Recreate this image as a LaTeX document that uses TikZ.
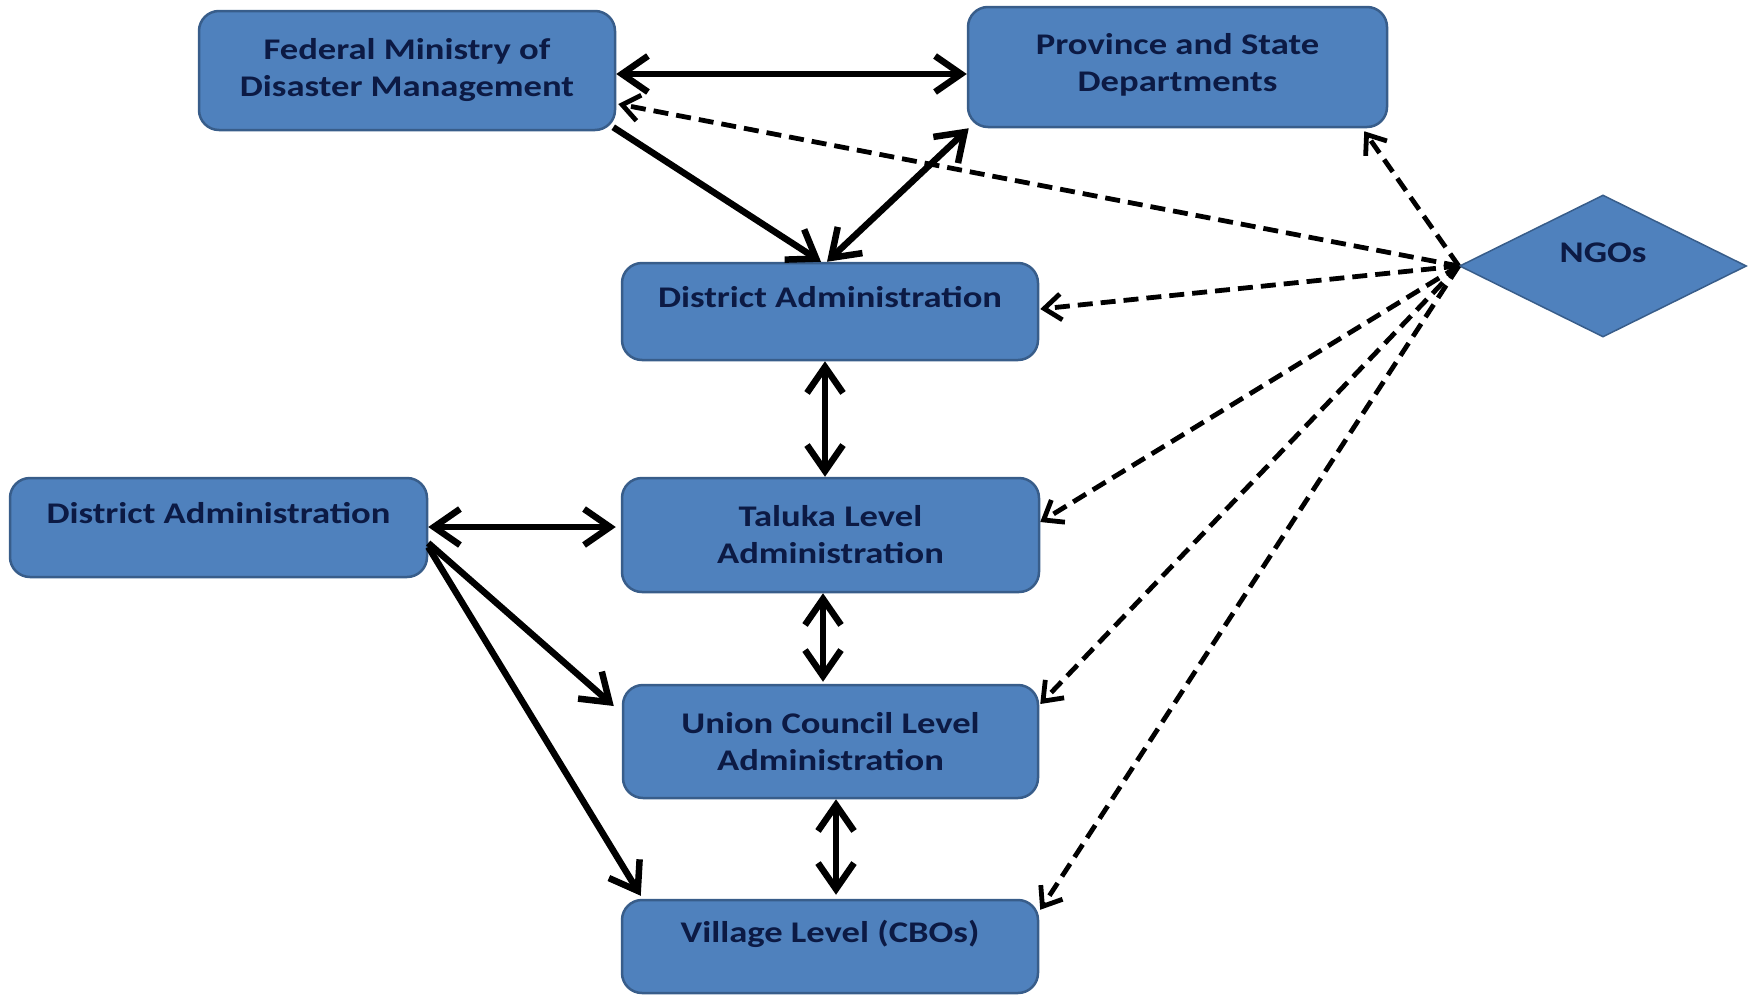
\documentclass[tikz,border=0pt]{standalone}
\usepackage{fontspec}
\newfontfamily\boxfont[FakeStretch=1.22]{Carlito}
\usetikzlibrary{shapes.geometric,arrows.meta,calc}
\definecolor{boxfill}{HTML}{4F81BD}
\definecolor{boxline}{HTML}{385D8A}
\definecolor{boxtext}{HTML}{0C1A44}
\tikzset{
  box/.style={draw=boxline, line width=2.5pt, fill=boxfill, rounded corners=20pt,
    text=boxtext, font=\boxfont\bfseries\fontsize{30}{37}\selectfont, align=center, inner sep=0pt},
  oneline/.style={text height=14pt, text depth=22pt},
  solidarrow/.style={line width=6.5pt, black},
  twoway/.style={solidarrow, {Straight Barb[length=26pt,width=36pt]}-{Straight Barb[length=26pt,width=36pt]}},
  oneway/.style={solidarrow, -{Straight Barb[length=26pt,width=36pt]}},
  dasharrow/.style={line width=4.8pt, black, dash pattern=on 15pt off 8pt, -{Straight Barb[length=17pt,width=26pt]}},
}
\begin{document}
\begin{tikzpicture}[x=1pt,y=-1pt]
\useasboundingbox (0,0) rectangle (1752,996);
\node[box, minimum width=416pt, minimum height=119pt] (fed) at (407,70.5) {Federal Ministry of\\Disaster Management};
\node[box, minimum width=419pt, minimum height=120pt, text depth=10pt] (prov) at (1177.5,67) {Province and State\\Departments};
\node[box, oneline, minimum width=416pt, minimum height=97pt] (dist) at (830,311.5) {District Administration};
\node[box, oneline, minimum width=417pt, minimum height=99pt] (left) at (218.5,527.5) {District Administration};
\node[box, minimum width=417pt, minimum height=114pt] (tal) at (830.5,535) {Taluka Level\\Administration};
\node[box, minimum width=415pt, minimum height=113pt] (uni) at (830.5,741.5) {Union Council  Level\\Administration};
\node[box, oneline, minimum width=416pt, minimum height=93pt] (vil) at (830,946.5) {Village Level (CBOs)};
\node[diamond, draw=boxline, line width=1.5pt, fill=boxfill, text=boxtext,
  font=\boxfont\bfseries\fontsize{30}{31}\selectfont, inner sep=0pt,
  minimum width=287pt, minimum height=142pt, text height=14pt, text depth=22pt] (ngo) at (1603,266) {NGOs};

% solid connectors
\draw[twoway] ($(fed.east)+(0,3.5)$) -- ($(prov.west)+(0,7)$);
\draw[oneway] ($(fed.south east)+(-3,-4)$) -- ($(dist.north)+(-9,0)$);
\draw[twoway] ($(dist.north)+(-3,0)$) -- ($(prov.south west)+(2,0)$);
\draw[twoway] ($(dist.south)+(-5,0)$) -- ($(tal.north)+(-5.5,0)$);
\draw[twoway] ($(left.east)+(0,-0.5)$) -- ($(tal.west)+(-5,-8)$);
\draw[oneway] ($(left.east)+(0,15.5)$) -- ($(uni.west)+(-8,-35.5)$);
\draw[oneway] ($(left.east)+(0,19.5)$) -- ($(vil.north west)+(20,-3)$);
\draw[twoway] ($(tal.south)+(-7.5,0)$) -- ($(uni.north)+(-7.5,-2)$);
\draw[twoway] ($(uni.south)+(5.5,0)$) -- ($(vil.north)+(6,-4)$);

% dashed connectors from NGOs
\draw[dasharrow] (ngo.west) -- ($(fed.east)+(2,33.5)$);
\draw[dasharrow] (ngo.west) -- ($(prov.south east)+(-24,3)$);
\draw[dasharrow] (ngo.west) -- ($(dist.east)+(1,-2.5)$);
\draw[dasharrow] (ngo.west) -- ($(tal.east)+(0,-13)$);
\draw[dasharrow] (ngo.west) -- ($(uni.east)+(1,-37.5)$);
\draw[dasharrow] (ngo.west) -- ($(vil.north east)+(1,11)$);
\end{tikzpicture}
\end{document}
